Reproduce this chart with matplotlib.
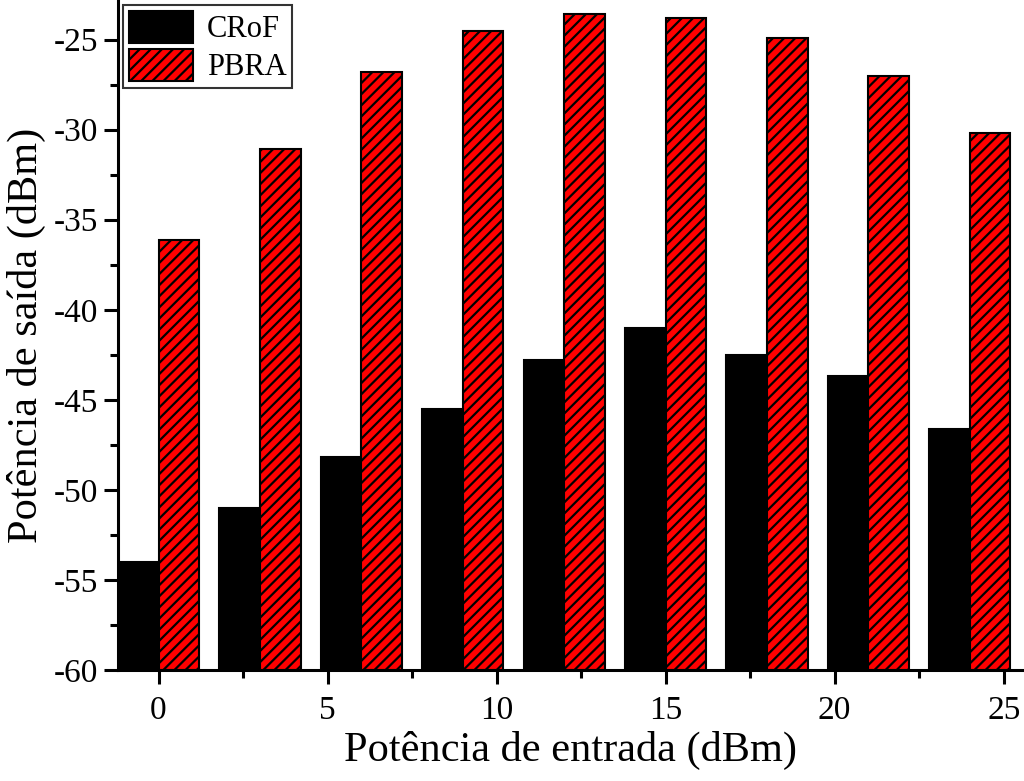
import matplotlib
matplotlib.use("Agg")
import matplotlib.pyplot as plt
import numpy as np
from matplotlib.ticker import MultipleLocator

plt.rcParams['font.family'] = ['Liberation Serif', 'DejaVu Serif']
plt.rcParams['hatch.linewidth'] = 1.6
plt.rcParams['axes.unicode_minus'] = False

x_vals = [0, 3, 6, 9, 12, 15, 18, 21, 24]
crof = [-54.0, -51.0, -48.2, -45.5, -42.8, -41.0, -42.5, -43.7, -46.6]
pbra = [-36.1, -31.1, -26.8, -24.5, -23.6, -23.8, -24.9, -27.0, -30.2]
series_names = ["CRoF", "PBRA"]
xlabel = "Potência de entrada (dBm)"
ylabel = "Potência de saída (dBm)"

fig = plt.figure(figsize=(10.24, 7.81), dpi=100)
ax = fig.add_axes([0.1152, 0.1421, 0.8848, 0.8579])

w = 1.2
base = -60
x = np.array(x_vals)
ax.bar(x - w / 2, np.array(crof) - base, width=w, bottom=base, color='black',
       edgecolor='black', linewidth=1.5, label=series_names[0])
ax.bar(x + w / 2, np.array(pbra) - base, width=w, bottom=base, color='#ff0000',
       edgecolor='black', linewidth=1.5, hatch='///', label=series_names[1])

ax.set_xlim(-1.2, 25.6)
ax.set_ylim(-60, -22.8)
ax.xaxis.set_major_locator(MultipleLocator(5))
ax.xaxis.set_minor_locator(MultipleLocator(2.5))
ax.yaxis.set_major_locator(MultipleLocator(5))
ax.yaxis.set_minor_locator(MultipleLocator(2.5))

for s in ['top', 'right']:
    ax.spines[s].set_visible(False)
for s in ['left', 'bottom']:
    ax.spines[s].set_linewidth(2.2)

ax.tick_params(axis='both', which='major', direction='out', length=10, width=2.2,
               labelsize=24, pad=4)
ax.tick_params(axis='x', which='major', pad=8)
ax.tick_params(axis='both', which='minor', direction='out', length=6, width=2.2)

ax.set_xlabel(xlabel, fontsize=30.5, labelpad=4)
ax.set_ylabel(ylabel, fontsize=30.5, labelpad=6)

leg = ax.legend(loc='upper left', fontsize=22, frameon=True, fancybox=False,
                edgecolor='black', handlelength=2.1, handleheight=1.25,
                borderaxespad=0.15, borderpad=0.2, labelspacing=0.15,
                handletextpad=0.45)
leg.get_frame().set_linewidth(1.5)

fig.savefig("out.png", dpi=100)
